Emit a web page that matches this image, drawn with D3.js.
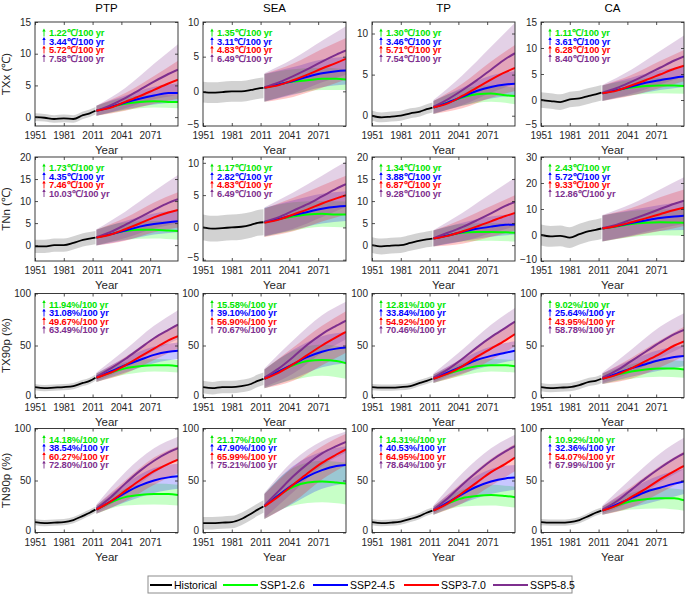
<!DOCTYPE html>
<html><head><meta charset="utf-8">
<script src="https://cdn.jsdelivr.net/npm/d3@7"></script>
<style>body{margin:0;background:#fff}svg{display:block;font-family:"Liberation Sans",Arial,sans-serif}</style>
</head><body><svg id="c" width="685" height="594"></svg>
<script>
// ---------------- DATA ----------------
const regions = ["PTP","SEA","TP","CA"];
const indexNames = ["TXx","TNn","TX90p","TN90p"];
const yLabels = ["TXx (℃)","TNn (℃)","TX90p (%)","TN90p (%)"];
const trendUnits = ["℃/100 yr","℃/100 yr","%/100 yr","%/100 yr"];
const seriesNames = ["Historical","SSP1-2.6","SSP2-4.5","SSP3-7.0","SSP5-8.5"];
const histYears = [1951,1961,1971,1981,1991,2001,2008,2014];
const scenYears = [2015,2030,2045,2060,2075,2090,2100];
const spreadYears = [2015,2045,2075,2100];
const xTicks = [1951,1981,2011,2041,2071];

const yDomains = [
  [[-1.4,15],[-5,10],[-1.25,11.4],[-5,15]],
  [[-3.6,20],[-5.2,10.9],[-3.6,20],[-10,30]],
  [[0,100],[0,100],[0,100],[0,100]],
  [[0,100],[0,100],[0,100],[0,100]]
];
const yTicks = [
  [[0,5,10,15],[-5,0,5,10],[0,5,10],[-5,0,5,10,15]],
  [[0,5,10,15,20],[-5,0,5,10],[0,5,10,15,20],[-10,0,10,20,30]],
  [[0,50,100],[0,50,100],[0,50,100],[0,50,100]],
  [[0,50,100],[0,50,100],[0,50,100],[0,50,100]]
];

// TXx
const TXx_hist = [[0,-0.1,-0.3,-0.2,-0.3,0.3,0.6,1.0],[-0.1,-0.2,-0.1,0,0,0.2,0.4,0.5],[0,-0.2,-0.1,0,0.3,0.5,0.8,1.0],[0,-0.2,-0.4,0.1,0.3,0.8,1.1,1.4]];
const TXx_histSpread = [0.6,1.5,0.6,1.5];
const TXx_ssp126 = [[1.0,1.6,2.1,2.4,2.5,2.4,2.4],[0.5,1.0,1.4,1.6,1.8,1.8,1.7],[1.0,1.6,2.2,2.6,2.7,2.5,2.4],[1.3,1.9,2.4,2.7,2.8,2.8,2.7]];
const TXx_ssp245 = [[1.0,1.6,2.3,2.9,3.4,3.8,3.8],[0.5,1.0,1.5,2.1,2.6,2.9,3.0],[1.0,1.6,2.3,3.0,3.5,3.8,3.9],[1.3,1.9,2.6,3.3,3.8,4.3,4.5]];
const TXx_ssp370 = [[1.0,1.5,2.4,3.3,4.3,5.3,5.9],[0.5,0.9,1.6,2.4,3.3,4.1,4.7],[1.0,1.5,2.4,3.4,4.4,5.3,5.8],[1.3,1.8,2.8,3.8,4.9,6.0,6.6]];
const TXx_ssp585 = [[1.0,1.9,3.0,4.3,5.6,6.8,7.5],[0.6,1.3,2.2,3.2,4.3,5.3,5.9],[1.1,2.0,3.1,4.3,5.6,6.9,7.6],[1.4,2.3,3.5,4.8,6.2,7.6,8.4]];
const TXx_spread = [
  [[0.8,1.0,1.0,1.0],[0.8,1.1,1.4,1.5],[0.8,1.4,2.2,3.0],[0.8,1.6,2.8,4.0]],
  [[2.0,1.8,1.6,1.5],[2.0,2.0,2.0,2.0],[2.0,2.4,2.8,3.0],[2.0,2.5,3.0,3.5]],
  [[0.8,1.0,1.0,1.0],[0.8,1.1,1.4,1.5],[0.8,1.5,2.2,2.8],[0.8,1.8,2.8,3.7]],
  [[1.5,1.5,1.5,1.5],[1.5,1.7,1.9,2.0],[1.5,2.0,2.6,3.0],[1.5,2.3,3.2,4.0]]
];
const TXx_trends = [["1.22","3.44","5.72","7.58"],["1.35","3.11","4.83","6.49"],["1.30","3.46","5.71","7.54"],["1.11","3.61","6.28","8.40"]];

// TNn
const TNn_hist = [[-0.3,-0.3,0,0,0.5,1.2,1.5,1.7],[0,-0.2,-0.1,0,0.1,0.4,0.7,0.8],[0,-0.3,-0.1,0,0.5,1.0,1.3,1.5],[0,-0.5,-0.3,-1.0,0.3,1.5,2.0,2.5]];
const TNn_histSpread = [1.5,2.0,1.8,4.0];
const TNn_ssp126 = [[1.7,2.5,3.2,3.5,3.5,3.3,3.2],[0.8,1.3,1.7,2.0,2.1,2.0,2.0],[1.5,2.2,2.8,3.0,3.0,2.9,2.8],[2.5,3.3,4.2,4.7,4.9,4.8,4.7]];
const TNn_ssp245 = [[1.7,2.5,3.3,4.2,4.8,5.2,5.4],[0.8,1.3,1.9,2.4,2.9,3.2,3.3],[1.5,2.2,3.0,3.7,4.2,4.6,4.7],[2.5,3.5,4.6,5.6,6.5,7.1,7.4]];
const TNn_ssp370 = [[1.7,2.4,3.6,4.9,6.3,7.4,8.0],[0.7,1.2,2.0,2.8,3.7,4.5,5.0],[1.5,2.1,3.1,4.2,5.4,6.6,7.3],[2.5,3.5,4.9,6.4,8.0,9.6,10.5]];
const TNn_ssp585 = [[1.8,3.0,4.6,6.3,8.0,9.6,10.4],[0.9,1.6,2.6,3.6,4.8,6.0,6.7],[1.6,2.8,4.1,5.6,7.2,8.9,9.8],[2.7,4.0,5.9,7.9,10.0,12.0,13.2]];
const TNn_spread = [
  [[1.8,2.0,2.0,2.0],[1.8,2.2,2.4,2.5],[1.8,2.6,3.4,4.0],[1.8,3.0,4.2,5.5]],
  [[2.2,2.2,2.0,2.0],[2.2,2.3,2.3,2.3],[2.2,2.6,2.8,3.0],[2.2,2.8,3.2,3.5]],
  [[1.8,2.0,2.0,2.0],[1.8,2.1,2.3,2.3],[1.8,2.8,3.5,4.0],[1.8,3.2,4.5,5.5]],
  [[5,5,5,5],[5,5,5,5.5],[5,5.5,6.5,7],[5,6,7.5,9]]
];
const TNn_trends = [["1.73","4.35","7.46","10.03"],["1.17","2.82","4.83","6.49"],["1.34","3.88","6.87","9.28"],["2.43","5.72","9.33","12.86"]];

// TX90p
const TX90p_hist = [[10,9,9.5,10,11,14,16,19],[10,9,10,10,11,13,16,18],[10,9.5,9.5,10,11,14,16,18],[10,9,9.5,10,12,15,16,18]];
const TX90p_histSpread = [3,6,3,4];
const TX90p_ssp126 = [[19,24,28,30,31,31,30],[18,25,31,35,36,35,33],[18,23,27,30,31,31,30],[18,22,25,27,28,28,27]];
const TX90p_ssp245 = [[19,25,31,36,41,44,45],[18,25,32,39,44,47,48],[18,24,30,36,40,43,45],[18,23,28,32,36,39,40]];
const TX90p_ssp370 = [[19,24,31,39,47,55,59],[18,24,32,41,50,58,63],[18,23,30,39,47,55,61],[18,22,28,35,42,50,54]];
const TX90p_ssp585 = [[20,28,37,47,57,65,70],[19,28,39,51,61,69,74],[19,27,37,48,58,67,73],[19,26,35,44,53,61,65]];
const TX90p_spread = [
  [[4,6,6,6],[4,7,8,8],[4,8,11,12],[4,9,12,14]],
  [[9,14,15,15],[9,14,15,15],[9,16,19,20],[9,16,18,18]],
  [[4,6,6,6],[4,7,9,9],[4,8,11,12],[4,9,12,13]],
  [[5,7,8,8],[5,8,10,10],[5,10,13,14],[5,11,15,16]]
];
const TX90p_trends = [["11.94","31.08","49.67","63.49"],["15.58","39.10","56.90","70.67"],["12.81","33.84","54.92","70.46"],["9.02","25.64","43.95","58.78"]];

// TN90p
const TN90p_hist = [[10,9,9.5,10,12,16,19,22],[9,9,9.5,10,13,18,22,25],[10,9,9.5,10.5,13,16,19,21],[10,9.5,9.5,10,12,16,19,21]];
const TN90p_histSpread = [3,6,3,3];
const TN90p_ssp126 = [[22,29,34,36,37,37,36],[25,36,44,48,49,48,47],[21,28,33,35,36,35,34],[21,26,30,32,33,33,31]];
const TN90p_ssp245 = [[22,30,38,45,50,53,54],[25,36,46,54,60,64,65],[21,29,37,44,49,52,53],[21,27,33,39,43,47,49]];
const TN90p_ssp370 = [[22,30,40,50,59,66,70],[25,35,46,57,67,75,80],[21,28,38,48,58,66,72],[21,26,34,42,51,59,64]];
const TN90p_ssp585 = [[23,34,47,59,69,77,81],[26,40,54,66,76,83,87],[22,33,46,58,69,78,83],[22,30,41,52,62,71,76]];
const TN90p_spread = [
  [[4,8,10,10],[4,9,12,12],[4,10,13,13],[4,11,12,11]],
  [[12,18,20,20],[12,18,18,18],[12,17,16,15],[12,15,12,10]],
  [[4,8,10,10],[4,9,12,12],[4,10,13,13],[4,11,12,11]],
  [[4,8,10,10],[4,9,12,12],[4,10,13,14],[4,11,14,15]]
];
const TN90p_trends = [["14.18","38.54","60.27","72.80"],["21.17","47.90","65.99","75.21"],["14.31","40.53","64.95","78.64"],["10.92","32.36","54.07","67.99"]];

// ---------------- TABLE BUILT FROM ARRAYS ----------------
const table = [
  {hist:TXx_hist, hs:TXx_histSpread, scen:[TXx_ssp126,TXx_ssp245,TXx_ssp370,TXx_ssp585], spread:TXx_spread, trends:TXx_trends},
  {hist:TNn_hist, hs:TNn_histSpread, scen:[TNn_ssp126,TNn_ssp245,TNn_ssp370,TNn_ssp585], spread:TNn_spread, trends:TNn_trends},
  {hist:TX90p_hist, hs:TX90p_histSpread, scen:[TX90p_ssp126,TX90p_ssp245,TX90p_ssp370,TX90p_ssp585], spread:TX90p_spread, trends:TX90p_trends},
  {hist:TN90p_hist, hs:TN90p_histSpread, scen:[TN90p_ssp126,TN90p_ssp245,TN90p_ssp370,TN90p_ssp585], spread:TN90p_spread, trends:TN90p_trends}
];

// ---------------- STYLE / LAYOUT ----------------
const colors = ["#000000","#00ff00","#0000ff","#ff0000","#7e2f8e"];
const textColors = ["#000000","#00e600","#0000ff","#ff0000","#7e2f8e"];
const colLeft = [35,203,372,541];
const rowTop = [22,157,293.5,428.5];
const PW = 143, PH = 104;
const axisColor = "#262626";

const svg = d3.select("#c");
const defs = svg.append("defs");

indexNames.forEach((ind, r) => {
  regions.forEach((reg, c) => {
    const d = table[r];
    const x0 = colLeft[c], y0 = rowTop[r];
    const x = d3.scaleLinear().domain([1951,2100]).range([0,PW]);
    const y = d3.scaleLinear().domain(yDomains[r][c]).range([PH,0]);
    const g = svg.append("g").attr("transform",`translate(${x0},${y0})`);
    const clipId = `clip${r}${c}`;
    defs.append("clipPath").attr("id",clipId).append("rect").attr("width",PW).attr("height",PH);
    g.append("rect").attr("width",PW).attr("height",PH).attr("fill","#fff");
    const plot = g.append("g").attr("clip-path",`url(#${clipId})`);

    // historical band
    const hv = d.hist[c];
    const histPts = histYears.map((yr,i)=>({yr, v:hv[i]}));
    const hs = d.hs[c];
    plot.append("path").datum(histPts)
      .attr("fill","#b4b4b4").attr("fill-opacity",0.6)
      .attr("d", d3.area().curve(d3.curveMonotoneX).x(p=>x(p.yr)).y0(p=>y(p.v-hs)).y1(p=>y(p.v+hs)));

    // scenario bands
    d.scen.forEach((s, k) => {
      const mean = s[c];
      const sp = d.spread[c][k];
      const pts = spreadYears.map((yr,i)=>({yr, v: mean[scenYears.indexOf(yr)], h: sp[i]}));
      plot.append("path").datum(pts)
        .attr("fill", colors[k+1]).attr("fill-opacity", 0.22)
        .attr("d", d3.area().curve(d3.curveMonotoneX).x(p=>x(p.yr)).y0(p=>y(p.v-p.h)).y1(p=>y(p.v+p.h)));
    });

    // historical line
    plot.append("path").datum(histPts)
      .attr("fill","none").attr("stroke","#000").attr("stroke-width",1.8)
      .attr("d", d3.line().curve(d3.curveMonotoneX).x(p=>x(p.yr)).y(p=>y(p.v)));

    // scenario lines
    [0,1,3,2].forEach(k => {
      const mean = d.scen[k][c];
      const pts = scenYears.map((yr,i)=>({yr, v:mean[i]}));
      plot.append("path").datum(pts)
        .attr("fill","none").attr("stroke",colors[k+1]).attr("stroke-width",2)
        .attr("d", d3.line().curve(d3.curveMonotoneX).x(p=>x(p.yr)).y(p=>y(p.v)));
    });

    // axes
    const ax = g.append("g").attr("transform",`translate(0,${PH})`)
      .call(d3.axisBottom(x).tickValues(xTicks).tickFormat(d3.format("d")).tickSizeInner(-3).tickSizeOuter(0).tickPadding(6));
    const axT = g.append("g")
      .call(d3.axisTop(x).tickValues(xTicks).tickFormat("").tickSizeInner(-3).tickSizeOuter(0));
    const ay = g.append("g")
      .call(d3.axisLeft(y).tickValues(yTicks[r][c]).tickFormat(d3.format("d")).tickSizeInner(-3).tickSizeOuter(0).tickPadding(4));
    const ayR = g.append("g").attr("transform",`translate(${PW},0)`)
      .call(d3.axisRight(y).tickValues(yTicks[r][c]).tickFormat("").tickSizeInner(-3).tickSizeOuter(0));
    [ax,axT,ay,ayR].forEach(a => {
      a.select(".domain").remove();
      a.selectAll("line").attr("stroke",axisColor).attr("stroke-width",0.8);
      a.selectAll("text").attr("fill",axisColor).style("font-size","10px").style("font-family","'Liberation Sans',Arial,sans-serif");
    });
    // lift lowest y tick label slightly so it clears the x tick labels
    ay.selectAll(".tick text").filter(v => v === yTicks[r][c][0] && y(v) > PH - 2).attr("dy","0.1em");
    g.append("rect").attr("width",PW).attr("height",PH).attr("fill","none").attr("stroke",axisColor).attr("stroke-width",0.9);

    // x label
    g.append("text").attr("x",PW/2).attr("y",PH+28).attr("text-anchor","middle")
      .attr("fill",axisColor).style("font-size","11.5px").text("Year");

    // title
    if (r===0) g.append("text").attr("x",PW/2).attr("y",-10).attr("text-anchor","middle")
      .attr("fill","#000").style("font-size","11.5px").text(reg);

    // y label
    if (c===0) g.append("text").attr("transform",`translate(${-25},${PH/2}) rotate(-90)`)
      .attr("text-anchor","middle").attr("fill",axisColor).style("font-size","11.5px").text(yLabels[r]);

    // trend annotations
    d.trends[c].forEach((t,k) => {
      const ty = 11 + k*8.5;
      const col = textColors[k+1];
      g.append("line").attr("x1",9).attr("x2",9).attr("y1",ty+3.5).attr("y2",ty-3)
        .attr("stroke",col).attr("stroke-width",0.9);
      g.append("path").attr("d",`M${7.3},${ty-1.5} L9,${ty-4.5} L${10.7},${ty-1.5} Z`).attr("fill",col);
      g.append("text").attr("x",14).attr("y",ty+3.4).attr("fill",col)
        .style("font-size","9.3px").style("font-weight","bold").style("letter-spacing","-0.1px")
        .text(t + trendUnits[r]);
    });
  });
});

// legend
const lg = svg.append("g").attr("transform","translate(148,576)");
lg.append("rect").attr("width",424).attr("height",17).attr("fill","#fff").attr("stroke","#8c8c8c").attr("stroke-width",1);
const legX = [2,75,165,256,345];
seriesNames.forEach((n,i) => {
  const lx = legX[i];
  lg.append("line").attr("x1",lx).attr("x2",lx+(i===0?22:35)).attr("y1",9).attr("y2",9)
    .attr("stroke",colors[i]).attr("stroke-width",2);
  lg.append("text").attr("x",lx+(i===0?24:37)).attr("y",12.8).attr("fill","#000")
    .style("font-size","10.5px").text(n);
});
</script></body></html>
